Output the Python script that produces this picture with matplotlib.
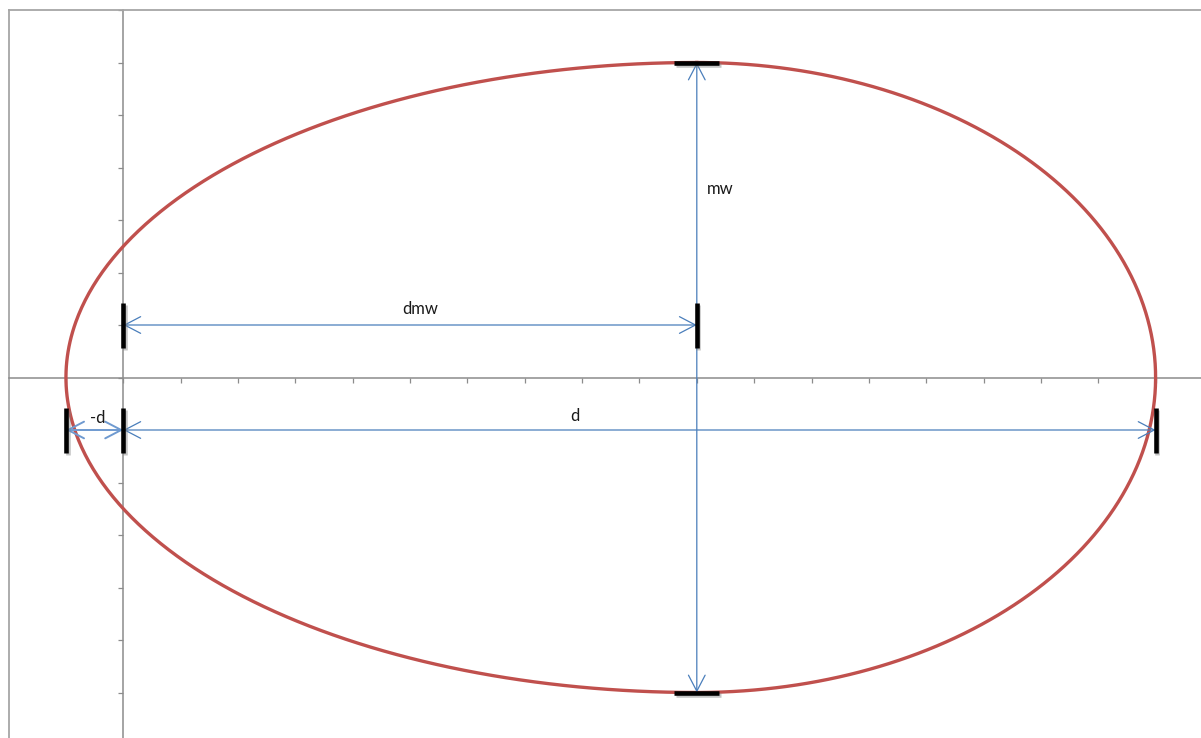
import numpy as np
import matplotlib
matplotlib.use("Agg")
import matplotlib.pyplot as plt
from matplotlib.patches import FancyArrowPatch, ArrowStyle
from matplotlib.lines import Line2D
import matplotlib.patheffects as pe

plt.rcParams['font.family'] = ['Lato', 'DejaVu Sans']

# ---- data ----
neg_d = -1.0     # left end of curve
dmw = 10.0       # position of maximum width
d = 18.0         # right end of curve
mw = 6.0         # half of maximum width
dmw_arrow_y = 1.0
d_arrow_y = -1.0

# bar markers: (x, y, orientation)
bar_x = [0.0, dmw, neg_d, 0.0, d, dmw, dmw]
bar_y = [dmw_arrow_y, dmw_arrow_y, d_arrow_y, d_arrow_y, d_arrow_y, mw, -mw]
bar_vertical = [True, True, True, True, True, False, False]

# labels
label_text = ["dmw", "mw", "d", "-d"]
label_x = [5.18, 10.4, 7.88, -0.45]
label_y = [1.31, 3.6, -0.74, -0.78]

xlim = (-2, 20)
ylim = (-7, 7)
x_ticks = np.arange(-1, 20, 1)
y_ticks = np.arange(-7, 8, 1)

# ---- figure ----
W, H = 1201, 738
fig = plt.figure(figsize=(W / 100, H / 100), dpi=100)
xscale, yscale = 57.35, 52.5
left_px, top_px = 8.6, 10.0
ax_w = (xlim[1] - xlim[0]) * xscale
ax_h = (ylim[1] - ylim[0]) * yscale
ax = fig.add_axes([left_px / W, (H - top_px - ax_h) / H, ax_w / W, ax_h / H])
ax.set_xlim(*xlim)
ax.set_ylim(*ylim)

axis_col = '#8c8c8c'
border_col = '#a6a6a6'
ax.spines['right'].set_visible(False)
ax.spines['top'].set_color(border_col)
ax.spines['top'].set_linewidth(1.3)
ax.spines['left'].set_position(('data', 0))
ax.spines['bottom'].set_position(('data', 0))
for s in ('left', 'bottom'):
    ax.spines[s].set_color(axis_col)
    ax.spines[s].set_linewidth(1.1)
ax.add_line(Line2D([0, 0], [0, 1], transform=ax.transAxes, color=border_col,
                   lw=1.3, clip_on=False))

ax.set_xticks(x_ticks)
ax.set_yticks(y_ticks)
ax.set_xticklabels([])
ax.set_yticklabels([])
ax.tick_params(axis='both', direction='out', length=3.8, width=0.9, color=axis_col)

# ---- egg curve: two half-ellipses joined at dmw ----
t = np.linspace(0, np.pi, 400)
a_left = dmw - neg_d
a_right = d - dmw
xl = dmw - a_left * np.sin(t)
yl = mw * np.cos(t)
xr = dmw + a_right * np.sin(t)
yr = mw * np.cos(t)
cx = np.concatenate([xl, xr[::-1]])
cy = np.concatenate([yl, yr[::-1]])
ax.plot(cx, cy, color='#c0504d', lw=2.4, zorder=3, solid_joinstyle='round')

# ---- arrows ----
blue = '#4a7ebb'
style = ArrowStyle('<->', head_length=11.5, head_width=6.0)

def arrow(p0, p1, lw=0.9, col=blue):
    a = FancyArrowPatch(p0, p1, arrowstyle=style, mutation_scale=1,
                        shrinkA=0, shrinkB=0, color=col, lw=lw, zorder=4)
    ax.add_patch(a)

arrow((0.0, dmw_arrow_y), (dmw, dmw_arrow_y))
arrow((0.0, d_arrow_y), (d, d_arrow_y))
arrow((neg_d, d_arrow_y), (0.0, d_arrow_y), lw=1.4, col='#6f9ad0')
arrow((dmw, mw), (dmw, -mw))

# ---- black bars with shadow ----
hv = 22.5 / yscale
hh = 22.5 / xscale
for bx, by, vert in zip(bar_x, bar_y, bar_vertical):
    if vert:
        xs, ys = [bx, bx], [by - hv, by + hv]
    else:
        xs, ys = [bx - hh, bx + hh], [by, by]
    ax.plot(xs, ys, color='black', lw=3.3, solid_capstyle='butt', zorder=5,
            path_effects=[pe.SimpleLineShadow(offset=(1.2, -2.0), shadow_color='#808080', alpha=0.45),
                          pe.Normal()])

# ---- labels ----
for txt, lx, ly in zip(label_text, label_x, label_y):
    ax.text(lx, ly, txt, fontsize=12, color='#1a1a1a', ha='center', va='center', zorder=6)

fig.savefig('out.png', dpi=100)
